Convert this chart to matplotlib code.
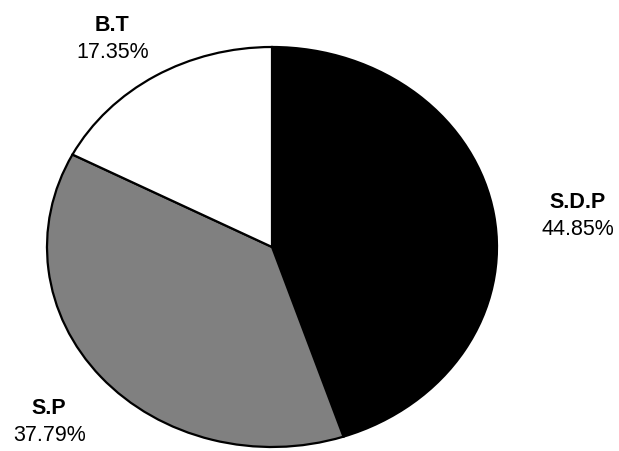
import matplotlib.pyplot as plt

plt.rcParams['font.family'] = ['Liberation Sans', 'DejaVu Sans']

parties = ["S.D.P", "S.P", "B.T"]
shares = [44.85, 37.79, 17.35]
colors = ["#000000", "#808080", "#ffffff"]
# label anchor points, in pie-radius units
label_x = [1.36, -0.99, -0.71]
label_y = [0.16, -0.87, 1.045]

fig = plt.figure(figsize=(6.19, 4.52), dpi=100)
# pie is drawn slightly stretched horizontally, like the original
ax = fig.add_axes([47 / 619, 4 / 452, 450 / 619, 400 / 452])

wedges, _ = ax.pie(shares, colors=colors, startangle=90, counterclock=False,
                   wedgeprops=dict(edgecolor="black", linewidth=1.6))
ax.set_aspect("auto")
ax.set_xlim(-1, 1)
ax.set_ylim(-1, 1)
for w in wedges:
    w.set_clip_on(False)

for name, val, x, y in zip(parties, shares, label_x, label_y):
    ax.annotate(name, (x, y), xytext=(0, 10), textcoords="offset points",
                ha="center", va="center", fontsize=15.5, fontweight="bold",
                annotation_clip=False)
    ax.annotate(f"{val:.2f}%", (x, y), xytext=(0, -10), textcoords="offset points",
                ha="center", va="center", fontsize=15.5, annotation_clip=False)

fig.savefig("out.png", dpi=100)
